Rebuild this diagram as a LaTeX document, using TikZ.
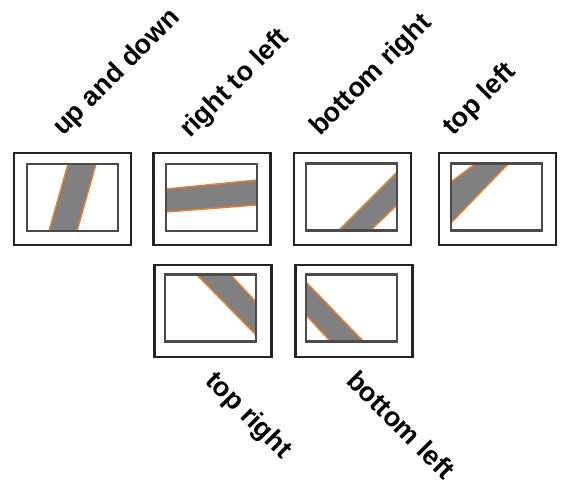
\documentclass[tikz,border=0pt]{standalone}
\usepackage{fontspec}
\setmainfont{Liberation Sans}
\usepackage{tikz}
\usetikzlibrary{positioning}
\definecolor{cFrame}{RGB}{35,35,35}
\definecolor{cInner}{RGB}{75,75,75}
\definecolor{cBand}{RGB}{128,128,128}
\definecolor{cEdge}{RGB}{240,125,40}
\tikzset{
  outerbox/.style={rectangle,draw=cFrame,line width=2.4pt,
                   minimum width=117pt,minimum height=92pt,inner sep=0pt},
  innerbox/.style={rectangle,draw=cInner,line width=2.2pt,
                   minimum width=91pt,minimum height=67pt,inner sep=0pt},
  band/.style={fill=cBand,draw=none},
  bandedge/.style={draw=cEdge,line width=1.4pt},
  uplabel/.style={rotate=45,anchor=base west,inner sep=0pt,
                  font=\fontsize{27}{31}\selectfont\bfseries},
  downlabel/.style={rotate=-45,anchor=base west,inner sep=0pt,
                    font=\fontsize{27}{31}\selectfont\bfseries}
}
\begin{document}
\begin{tikzpicture}[x=1pt,y=-1pt]
  \useasboundingbox (0,0) rectangle (564,486);

  % up and down
  \node[outerbox] (udO) at (72.5,199) {};
  \fill[band] (49,231) -- (77,231) -- (96,164) -- (68,164) -- cycle;
  \draw[bandedge] (49,231) -- (68,164) (77,231) -- (96,164);
  \node[innerbox] (udI) at (72.5,197.5) {};
  \node[uplabel] (udL) at (63,137) {up and down};

  % right to left
  \node[outerbox] (rlO) at (212,199) {};
  \fill[band] (166,189) -- (257,180) -- (257,205) -- (166,212) -- cycle;
  \draw[bandedge] (166,189) -- (257,180) (166,212) -- (257,205);
  \node[innerbox] (rlI) at (211.5,197.5) {};
  \node[uplabel] (rlL) at (190,139) {right to left};

  % bottom right
  \node[outerbox] (brO) at (352.5,199) {};
  \fill[band] (339,230) -- (371,230) -- (397,205) -- (397,172) -- cycle;
  \draw[bandedge] (339,230) -- (397,172) (371,230) -- (397,205);
  \node[innerbox] (brI) at (351.5,197) {};
  \node[uplabel] (brL) at (320,137) {bottom right};

  % top left
  \node[outerbox] (tlO) at (497.5,199) {};
  \fill[band] (475,164) -- (508,164) -- (451,223) -- (451,182) -- cycle;
  \draw[bandedge] (475,164) -- (451,182) (508,164) -- (451,223);
  \node[innerbox] (tlI) at (496.5,197) {};
  \node[uplabel] (tlL) at (453,137) {top left};

  % top right
  \node[outerbox] (trO) at (213,311) {};
  \fill[band] (197,275) -- (231,275) -- (256,302) -- (256,335) -- cycle;
  \draw[bandedge] (197,275) -- (256,335) (231,275) -- (256,302);
  \node[innerbox] (trI) at (210.5,308) {};
  \node[downlabel] (trL) at (204,382) {top right};

  % bottom left
  \node[outerbox] (blO) at (354,311) {};
  \fill[band] (306,282) -- (363,341) -- (330,341) -- (306,315) -- cycle;
  \draw[bandedge] (306,282) -- (363,341) (306,315) -- (330,341);
  \node[innerbox] (blI) at (351.5,308) {};
  \node[downlabel] (blL) at (345,382) {bottom left};
\end{tikzpicture}
\end{document}
